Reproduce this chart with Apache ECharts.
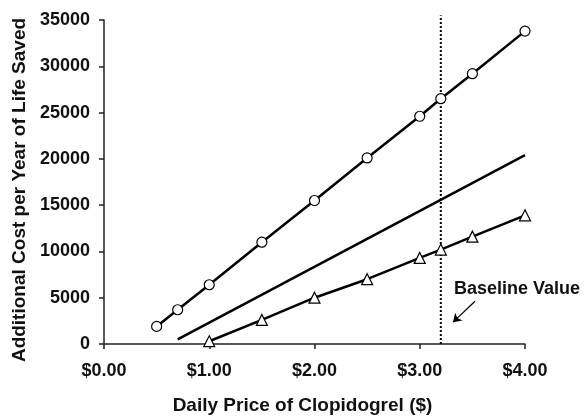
<!DOCTYPE html>
<html><head><meta charset="utf-8">
<script src="https://cdn.jsdelivr.net/npm/echarts@6/dist/echarts.min.js"></script>
<style>html,body{margin:0;padding:0;background:#fff}#c{width:586px;height:420px}</style>
</head><body><div id="c"></div>
<script>
// Data
const highPrices = [0.5, 0.7, 1.0, 1.5, 2.0, 2.5, 3.0, 3.2, 3.5, 4.0];
const highCost   = [1900, 3700, 6400, 11000, 15500, 20100, 24600, 26500, 29200, 33800];
const basePrices = [0.7, 4.0];
const baseCost   = [500, 20400];
const lowPrices  = [1.0, 1.5, 2.0, 2.5, 3.0, 3.2, 3.5, 4.0];
const lowCost    = [300, 2600, 5000, 7000, 9300, 10200, 11600, 13900];
const baselinePrice = 3.2;
const xTicks = [0, 1, 2, 3, 4];
const yTicks = [0, 5000, 10000, 15000, 20000, 25000, 30000, 35000];

const zip = (a, b) => a.map((v, i) => [v, b[i]]);
const font = 'Arial, "Liberation Sans", Helvetica, sans-serif';
const chart = echarts.init(document.getElementById('c'));
chart.setOption({
  animation: false,
  grid: { left: 104, right: 61, top: 20, bottom: 74 },
  xAxis: {
    type: 'value', min: xTicks[0], max: xTicks[xTicks.length - 1], interval: 1,
    name: 'Daily Price of Clopidogrel ($)', nameLocation: 'middle', nameGap: 52,
    nameTextStyle: { fontFamily: font, fontWeight: 'bold', fontSize: 19, color: '#111', padding: [0, 24, 0, 0] },
    axisLine: { lineStyle: { color: '#222', width: 1.5 } },
    axisTick: { show: true, length: 5, lineStyle: { color: '#222', width: 1.5 } },
    axisLabel: { margin: 18, fontFamily: font, fontWeight: 'bold', fontSize: 18, color: '#111',
      formatter: v => '$' + v.toFixed(2) },
    splitLine: { show: false }
  },
  yAxis: {
    type: 'value', min: yTicks[0], max: yTicks[yTicks.length - 1], interval: 5000,
    name: 'Additional Cost per Year of Life Saved', nameLocation: 'middle', nameGap: 73,
    nameTextStyle: { fontFamily: font, fontWeight: 'bold', fontSize: 19, color: '#111', padding: [0, 16, 0, 0] },
    axisLine: { show: true, lineStyle: { color: '#222', width: 1.5 } },
    axisTick: { show: true, length: 5, lineStyle: { color: '#222', width: 1.5 } },
    axisLabel: { margin: 14, fontFamily: font, fontWeight: 'bold', fontSize: 18, color: '#111',
      formatter: v => String(v) },
    splitLine: { show: false }
  },
  series: [
    { type: 'line', data: zip(highPrices, highCost), symbol: 'circle', symbolSize: 10,
      lineStyle: { color: '#000', width: 2.5 }, itemStyle: { color: '#fff', borderColor: '#000', borderWidth: 1.2 }, z: 3 },
    { type: 'line', data: zip(basePrices, baseCost), symbol: 'none',
      lineStyle: { color: '#000', width: 2.5 } },
    { type: 'line', data: zip(lowPrices, lowCost), symbol: 'triangle', symbolSize: 11,
      lineStyle: { color: '#000', width: 2.5 }, itemStyle: { color: '#fff', borderColor: '#000', borderWidth: 1.2 }, z: 3 },
    { type: 'line', data: [[baselinePrice, 0], [baselinePrice, 35500]], symbol: 'none', clip: false,
      lineStyle: { color: '#000', width: 2, type: [2, 2] },
      markLine: { silent: true, symbol: ['arrow', 'none'], symbolSize: 8, label: { show: false },
        lineStyle: { color: '#000', width: 1.2, type: 'solid' },
        data: [[{ coord: [3.316, 2360] }, { coord: [3.525, 4620] }]] } }
  ],
  graphic: [
    { type: 'text', left: 454, top: 280,
      style: { text: 'Baseline Value', font: 'bold 18px ' + font, fill: '#111' } }
  ]
});
</script></body></html>
